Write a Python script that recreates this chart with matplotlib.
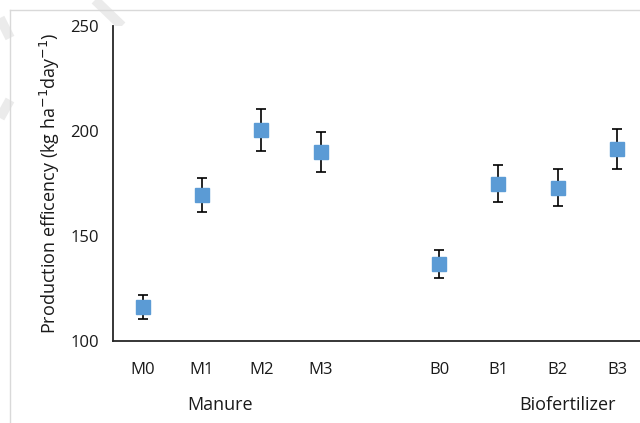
import matplotlib
matplotlib.use("Agg")
import matplotlib.pyplot as plt
from matplotlib.lines import Line2D
import matplotlib.transforms as mtransforms

positions = [0, 1, 2, 3, 5, 6, 7, 8]
values = [116.2, 169.5, 200.5, 190.0, 136.7, 174.8, 172.9, 191.4]
errors = [5.5, 8.3, 9.8, 9.5, 6.7, 8.8, 8.8, 9.5]
tick_labels = ["M0", "M1", "M2", "M3", "B0", "B1", "B2", "B3"]
groups = ["Manure", "Biofertilizer"]
group_pos = [1.3, 7.17]
yticks = [100, 150, 200, 250]

plt.rcParams['font.family'] = ['Open Sans', 'DejaVu Sans']

fig = plt.figure(figsize=(6.4, 4.23), dpi=100)
W, H = 640, 423
x0, xr = 113, 646.7
yb, yt = 341, 26
ax = fig.add_axes([x0 / W, (H - yb) / H, (xr - x0) / W, (yb - yt) / H])

# frame lines / watermark
fig.add_artist(Line2D([10 / W, 1], [1 - 10 / H, 1 - 10 / H], color="#d9d9d9", lw=1))
fig.add_artist(Line2D([10 / W, 10 / W], [0, 1 - 10 / H], color="#d9d9d9", lw=1))
for (xa, ya, xb, yb2) in [(95, 0, 122, 26), (0, 18, 10, 38), (0, 118, 10, 100)]:
    fig.add_artist(Line2D([xa / W, xb / W], [1 - ya / H, 1 - yb2 / H],
                          color="#ebebeb", lw=7, solid_capstyle="butt", zorder=0))

ax.errorbar(positions, values, yerr=errors, fmt="none", ecolor="black",
            elinewidth=1.2, capsize=3.6, capthick=1.2, zorder=2)
ax.plot(positions, values, "s", color="#5B9BD5", markersize=10, zorder=3,
        markeredgecolor="#5B9BD5")

ax.set_xlim(-0.5, 8.5)
ax.set_ylim(100, 250)
ax.set_yticks(yticks)
ax.set_xticks(positions)
ax.set_xticklabels(tick_labels)
ax.tick_params(axis="both", length=0, labelsize=12, colors="#1a1a1a")
ax.tick_params(axis="x", pad=15)
ax.tick_params(axis="y", pad=10)
for s in ["top", "right"]:
    ax.spines[s].set_visible(False)
for s in ["left", "bottom"]:
    ax.spines[s].set_color("#262626")
    ax.spines[s].set_linewidth(1.3)

ax.set_ylabel("Production efficency (kg ha$^{-1}$day$^{-1}$)", fontsize=13, labelpad=6,
              color="#1a1a1a")

trans = mtransforms.blended_transform_factory(ax.transData, fig.transFigure)
for g, p in zip(groups, group_pos):
    ax.text(p, 1 - 405 / H, g, transform=trans, ha="center", va="center",
            fontsize=13, color="#1a1a1a")

fig.savefig("out.png", dpi=100)
